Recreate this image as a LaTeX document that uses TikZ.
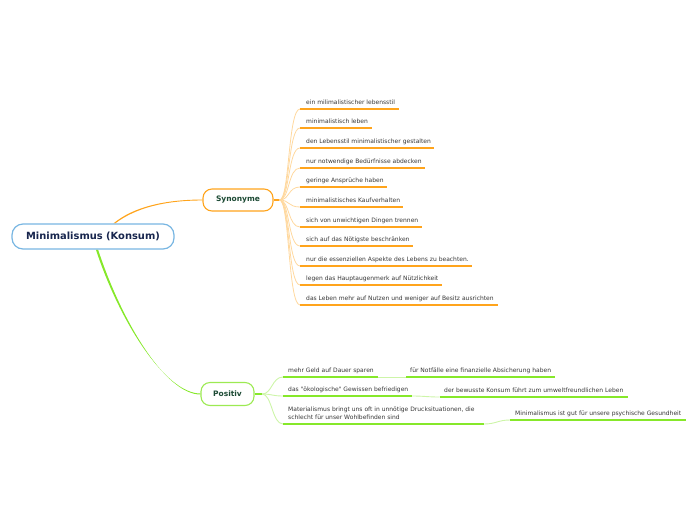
\documentclass[tikz,border=0pt]{standalone}
\usepackage{fontspec}
\newfontfamily\dv{DejaVu Sans}
\usetikzlibrary{calc,backgrounds}
\definecolor{orA}{HTML}{FFA41C}
\definecolor{orP}{HTML}{FFD89E}
\definecolor{grA}{HTML}{86E82A}
\definecolor{grB}{HTML}{9CEA52}
\definecolor{grP}{HTML}{CDF5A8}
\definecolor{blB}{HTML}{78B6E2}
\definecolor{navy}{HTML}{18264E}
\definecolor{dgreen}{HTML}{1C4A34}
\definecolor{leaftx}{HTML}{363636}
\begin{document}
\begin{tikzpicture}[x=1pt,y=-1pt,
  central/.style={draw=blB, line width=1.2pt, rounded corners=11pt, fill=white,
    minimum width=162pt, minimum height=25pt, inner sep=0pt,
    font=\dv\fontsize{9.9}{12}\selectfont\bfseries, text=navy},
  topic/.style={rounded corners=9pt, line width=1.1pt, fill=white, inner sep=0pt,
    font=\dv\fontsize{7.5}{9}\selectfont\bfseries, text=dgreen},
  leaf/.style={anchor=south west, inner ysep=0pt, inner xsep=6pt, text depth=4.5pt,
    font=\dv\fontsize{6}{7.5}\selectfont, text=leaftx, align=left},
  uorange/.style={draw=orA, line width=2pt},
  porange/.style={draw=orP, line width=0.8pt},
  ugreen/.style={draw=grA, line width=2pt},
  pgreen/.style={draw=grP, line width=0.9pt}
]
\useasboundingbox (0,0) rectangle (696,520);

% main nodes
\node[central] (cen) at (93,236.5) {Minimalismus (Konsum)};
\node[topic, draw=orA, minimum width=70pt, minimum height=22pt] (syn) at (238,200) {Synonyme};
\node[topic, draw=grB, minimum width=53pt, minimum height=23pt] (pos) at (227.5,394) {Positiv};

% synonyme leaves
\node[leaf] (s1) at (300,109) {ein milimalistischer lebensstil};
\node[leaf] (s2) at (300,128) {minimalistisch leben};
\node[leaf] (s3) at (300,148) {den Lebensstil minimalistischer gestalten};
\node[leaf] (s4) at (300,168) {nur notwendige Bedürfnisse abdecken};
\node[leaf] (s5) at (300,187) {geringe Ansprüche haben};
\node[leaf] (s6) at (300,207) {minimalistisches Kaufverhalten};
\node[leaf] (s7) at (300,227) {sich von unwichtigen Dingen trennen};
\node[leaf] (s8) at (300,246) {sich auf das Nötigste beschränken};
\node[leaf] (s9) at (300,266) {nur die essenziellen Aspekte des Lebens zu beachten.};
\node[leaf] (s10) at (300,285) {legen das Hauptaugenmerk auf Nützlichkeit};
\node[leaf] (s11) at (300,305) {das Leben mehr auf Nutzen und weniger auf Besitz ausrichten};

% positiv leaves
\node[leaf, inner xsep=5pt] (p1) at (283,377) {mehr Geld auf Dauer sparen};
\node[leaf, inner xsep=5pt] (p2) at (283,396) {das "ökologische" Gewissen befriedigen};
\node[leaf, inner xsep=5pt] (p3) at (283,424) {Materialismus bringt uns oft in unnötige Drucksituationen, die\\schlecht für unser Wohlbefinden sind};
\node[leaf, inner xsep=4pt] (q1) at (406,377) {für Notfälle eine finanzielle Absicherung haben};
\node[leaf, inner xsep=4.5pt] (q2) at (439.5,397) {der bewusste Konsum führt zum umweltfreundlichen Leben};
\node[leaf, inner xsep=5pt] (q3) at (510,420) {Minimalismus ist gut für unsere psychische Gesundheit};

\coordinate (synF) at ($(syn.east)+(6,0)$);
\coordinate (posF) at ($(pos.east)+(7.5,0)$);
\coordinate (p1e) at ($(p1.south west)+(95,0)$);
\coordinate (p2e) at ($(p2.south west)+(129,0)$);
\coordinate (p3e) at ($(p3.south west)+(201,0)$);

\begin{scope}[on background layer]
% main connectors (tapered)
\fill[orA] ($(cen.north)+(20.4,0)$) .. controls (133.5,206.8) and (165,199.6) .. ($(syn.west)+(0,-0.45)$)
  -- ($(syn.west)+(0,0.45)$) .. controls (165,200.4) and (135.5,208) .. ($(cen.north)+(22.2,0)$) -- cycle;
\fill[grA] ($(cen.south)+(2.9,0)$) .. controls (119,320.3) and (165,393.5) .. ($(pos.west)+(0,-0.5)$)
  -- ($(pos.west)+(0,0.5)$) .. controls (165,394.5) and (121,319.7) .. ($(cen.south)+(5.1,0)$) -- cycle;

% stubs
\draw[uorange] (syn.east) -- (synF);
\draw[ugreen] (pos.east) -- (posF);

% synonyme fan
\foreach \n in {s1,s2,s3,s4,s5,s6,s7,s8,s9,s10,s11}{
  \draw[porange] (synF) .. controls ($(synF)+(10,0)$) and ($(\n.south west)+(-12,0)$) .. (\n.south west);
}
% synonyme underlines
\draw[uorange] (s1.south west) -- ++(98.7,0);
\draw[uorange] (s2.south west) -- ++(71.7,0);
\draw[uorange] (s3.south west) -- ++(134,0);
\draw[uorange] (s4.south west) -- ++(125,0);
\draw[uorange] (s5.south west) -- ++(87,0);
\draw[uorange] (s6.south west) -- ++(103.3,0);
\draw[uorange] (s7.south west) -- ++(122,0);
\draw[uorange] (s8.south west) -- ++(113.3,0);
\draw[uorange] (s9.south west) -- ++(172.3,0);
\draw[uorange] (s10.south west) -- ++(141.7,0);
\draw[uorange] (s11.south west) -- ++(198,0);

% positiv fan
\foreach \n in {p1,p2,p3}{
  \draw[pgreen] (posF) .. controls ($(posF)+(10,0)$) and ($(\n.south west)+(-11,0)$) .. (\n.south west);
}
\draw[ugreen] (p1.south west) -- (p1e);
\draw[ugreen] (p2.south west) -- (p2e);
\draw[ugreen] (p3.south west) -- (p3e);
\draw[pgreen] (p1e) -- (q1.south west);
\draw[pgreen] (p2e) .. controls ($(p2e)+(12,0)$) and ($(q2.south west)+(-12,0)$) .. (q2.south west);
\draw[pgreen] (p3e) .. controls ($(p3e)+(12,0)$) and ($(q3.south west)+(-12,0)$) .. (q3.south west);
\draw[ugreen] (q1.south west) -- ++(149,0);
\draw[ugreen] (q2.south west) -- ++(188.5,0);
\draw[ugreen] (q3.south west) -- ++(176,0);
\end{scope}
\end{tikzpicture}
\end{document}
